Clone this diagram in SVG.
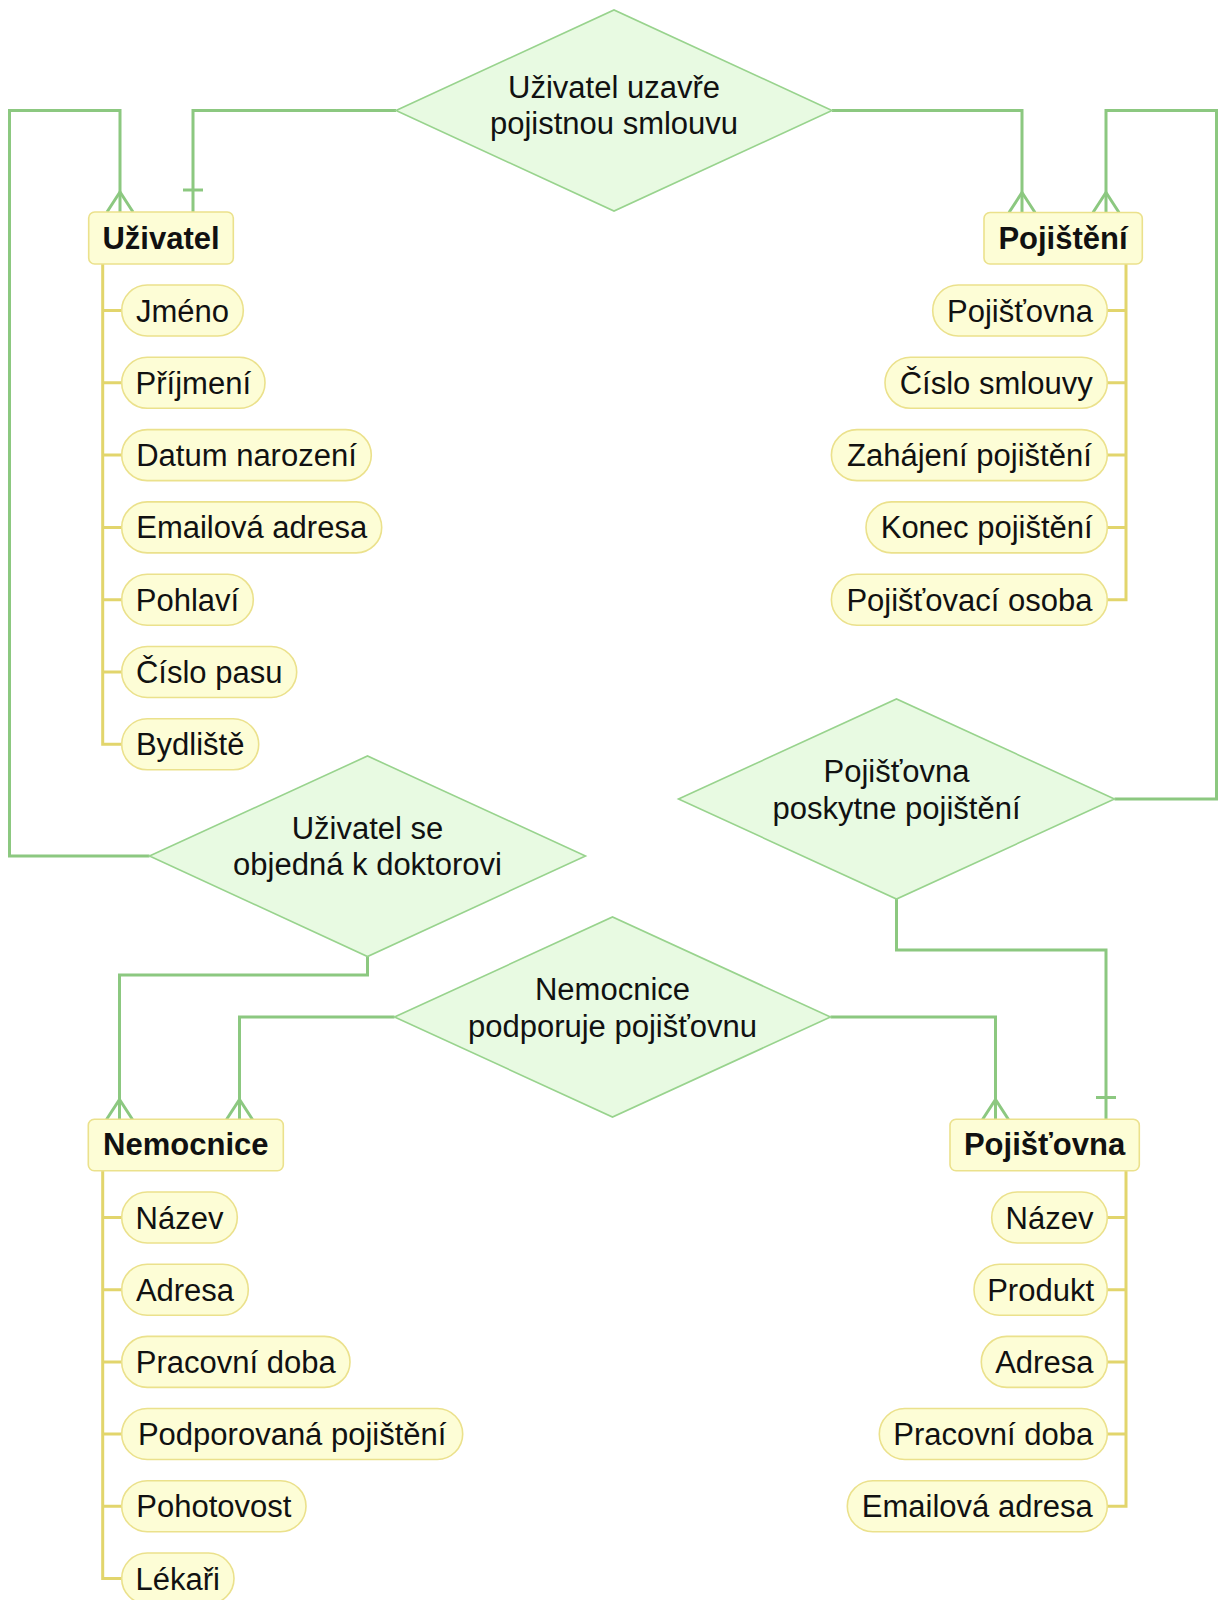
<svg xmlns="http://www.w3.org/2000/svg" width="1219" height="1600" viewBox="0 0 1219 1600">
  <style>
    .rel { fill: #e8fae2; stroke: #98d38d; stroke-width: 1.6; }
    .ent { fill: #fdfdd6; stroke: #ebe18c; stroke-width: 1.6; }
    .att { fill: #fdfdd6; stroke: #ebe18c; stroke-width: 1.6; }
    .link { fill: none; stroke: #8cc880; stroke-width: 3; }
    .attr-line { fill: none; stroke: #e2d56c; stroke-width: 3; }
    text { font-family: "Liberation Sans", Arial, sans-serif; font-size: 31px; fill: #111; stroke: none; }
    .title { font-weight: bold; }
    .mid { text-anchor: middle; }
  </style>
  <defs>
    <!-- many: crow's foot, drawn at the path end pointing along its direction -->
    <marker id="many" markerUnits="userSpaceOnUse" viewBox="-25 -15 30 30" refX="0" refY="0" markerWidth="30" markerHeight="30" orient="auto" overflow="visible">
      <path d="M0,-13 L-20,0 L0,13" fill="none" stroke="#8cc880" stroke-width="3"/>
    </marker>
    <!-- one: single bar across the line -->
    <marker id="one" markerUnits="userSpaceOnUse" viewBox="-25 -15 30 30" refX="0" refY="0" markerWidth="30" markerHeight="30" orient="auto" overflow="visible">
      <path d="M-22,-10 L-22,10" fill="none" stroke="#8cc880" stroke-width="3"/>
    </marker>
  </defs>

  <!-- relationship connectors -->
  <g id="connectors">
    <path class="link" d="M396,110.5 H193 V212" marker-end="url(#one)"/>
    <path class="link" d="M832,110.5 H1022 V212.5" marker-end="url(#many)"/>
    <path class="link" d="M149.5,856 H9.5 V110.5 H120 V212" marker-end="url(#many)"/>
    <path class="link" d="M1114.5,799 H1216.5 V110.5 H1106 V212.5" marker-end="url(#many)"/>
    <path class="link" d="M367.5,956.5 V975 H119.5 V1119.5" marker-end="url(#many)"/>
    <path class="link" d="M394.5,1017 H239.5 V1119.5" marker-end="url(#many)"/>
    <path class="link" d="M830.5,1017 H995.5 V1119.5" marker-end="url(#many)"/>
    <path class="link" d="M896.5,899 V950 H1106 V1119.5" marker-end="url(#one)"/>
  </g>

  <!-- attribute tree lines -->
  <g id="attribute-lines">
    <path class="attr-line" d="M102.7,264 V744.3 H121.7 M102.7,310.5 H121.7 M102.7,382.8 H121.7 M102.7,455.1 H121.7 M102.7,527.4 H121.7 M102.7,599.7 H121.7 M102.7,672 H121.7"/>
    <path class="attr-line" d="M1126,264 V599.7 H1107.3 M1126,310.5 H1107.3 M1126,382.8 H1107.3 M1126,455.1 H1107.3 M1126,527.4 H1107.3"/>
    <path class="attr-line" d="M102.7,1170.7 V1578.5 H121.7 M102.7,1217.5 H121.7 M102.7,1289.7 H121.7 M102.7,1361.9 H121.7 M102.7,1434 H121.7 M102.7,1506.2 H121.7"/>
    <path class="attr-line" d="M1126,1170.7 V1506.2 H1107.3 M1126,1217.5 H1107.3 M1126,1289.7 H1107.3 M1126,1361.9 H1107.3 M1126,1434 H1107.3"/>
  </g>

  <!-- relationships -->
  <g id="rel-uzavre">
    <polygon class="rel" points="396,110.5 614,10 832,110.5 614,211"/>
    <text class="mid" x="614" y="98">Uživatel uzavře</text>
    <text class="mid" x="614" y="134">pojistnou smlouvu</text>
  </g>
  <g id="rel-poskytne">
    <polygon class="rel" points="678.5,799 896.5,699 1114.5,799 896.5,899"/>
    <text class="mid" x="896.5" y="782">Pojišťovna</text>
    <text class="mid" x="896.5" y="818.5">poskytne pojištění</text>
  </g>
  <g id="rel-objedna">
    <polygon class="rel" points="149.5,856 367.5,756 585.5,856 367.5,956.5"/>
    <text class="mid" x="367.5" y="838.5">Uživatel se</text>
    <text class="mid" x="367.5" y="875">objedná k doktorovi</text>
  </g>
  <g id="rel-podporuje">
    <polygon class="rel" points="394.5,1017 612.5,917 830.5,1017 612.5,1117"/>
    <text class="mid" x="612.5" y="1000">Nemocnice</text>
    <text class="mid" x="612.5" y="1036.5">podporuje pojišťovnu</text>
  </g>

  <!-- entities -->
  <g id="ent-uzivatel">
    <rect class="ent" x="88.7" y="212" width="144.6" height="52" rx="6"/>
    <text class="title mid" x="161" y="249">Uživatel</text>
  </g>
  <g id="ent-pojisteni">
    <rect class="ent" x="984" y="212.5" width="158.3" height="51.5" rx="6"/>
    <text class="title mid" x="1063" y="249">Pojištění</text>
  </g>
  <g id="ent-nemocnice">
    <rect class="ent" x="88.3" y="1119.3" width="195" height="51.4" rx="6"/>
    <text class="title mid" x="185.8" y="1155">Nemocnice</text>
  </g>
  <g id="ent-pojistovna">
    <rect class="ent" x="950" y="1119.3" width="189.3" height="51.4" rx="6"/>
    <text class="title mid" x="1044.6" y="1155">Pojišťovna</text>
  </g>

  <!-- Uživatel attributes -->
  <g id="att-jmeno"><rect class="att" x="121.7" y="285" width="121.6" height="51" rx="25.5"/><text class="mid" x="182.5" y="321.5">Jméno</text></g>
  <g id="att-prijmeni"><rect class="att" x="121.7" y="357.3" width="143.3" height="51" rx="25.5"/><text class="mid" x="193.3" y="393.8">Příjmení</text></g>
  <g id="att-datum"><rect class="att" x="121.7" y="429.6" width="249.6" height="51" rx="25.5"/><text class="mid" x="246.5" y="466.1">Datum narození</text></g>
  <g id="att-email-u"><rect class="att" x="121.7" y="501.9" width="260" height="51" rx="25.5"/><text class="mid" x="251.7" y="538.4">Emailová adresa</text></g>
  <g id="att-pohlavi"><rect class="att" x="121.7" y="574.2" width="131.6" height="51" rx="25.5"/><text class="mid" x="187.5" y="610.7">Pohlaví</text></g>
  <g id="att-pas"><rect class="att" x="121.7" y="646.5" width="175" height="51" rx="25.5"/><text class="mid" x="209.2" y="683">Číslo pasu</text></g>
  <g id="att-bydliste"><rect class="att" x="121.7" y="718.8" width="137" height="51" rx="25.5"/><text class="mid" x="190.2" y="755.3">Bydliště</text></g>

  <!-- Pojištění attributes -->
  <g id="att-pojistovna"><rect class="att" x="932.7" y="285" width="174.6" height="51" rx="25.5"/><text class="mid" x="1020" y="321.5">Pojišťovna</text></g>
  <g id="att-cislo-smlouvy"><rect class="att" x="885" y="357.3" width="222.3" height="51" rx="25.5"/><text class="mid" x="996.2" y="393.8">Číslo smlouvy</text></g>
  <g id="att-zahajeni"><rect class="att" x="831.4" y="429.6" width="275.9" height="51" rx="25.5"/><text class="mid" x="969.4" y="466.1">Zahájení pojištění</text></g>
  <g id="att-konec"><rect class="att" x="866" y="501.9" width="241.3" height="51" rx="25.5"/><text class="mid" x="986.7" y="538.4">Konec pojištění</text></g>
  <g id="att-osoba"><rect class="att" x="831.4" y="574.2" width="275.9" height="51" rx="25.5"/><text class="mid" x="969.4" y="610.7">Pojišťovací osoba</text></g>

  <!-- Nemocnice attributes -->
  <g id="att-nazev-n"><rect class="att" x="121.7" y="1192" width="115.6" height="51" rx="25.5"/><text class="mid" x="179.5" y="1228.5">Název</text></g>
  <g id="att-adresa-n"><rect class="att" x="121.7" y="1264.2" width="126.6" height="51" rx="25.5"/><text class="mid" x="185" y="1300.7">Adresa</text></g>
  <g id="att-doba-n"><rect class="att" x="121.7" y="1336.4" width="228.3" height="51" rx="25.5"/><text class="mid" x="235.8" y="1372.9">Pracovní doba</text></g>
  <g id="att-podporovana"><rect class="att" x="121.7" y="1408.5" width="341" height="51" rx="25.5"/><text class="mid" x="292.2" y="1445">Podporovaná pojištění</text></g>
  <g id="att-pohotovost"><rect class="att" x="121.7" y="1480.7" width="184.3" height="51" rx="25.5"/><text class="mid" x="213.8" y="1517.2">Pohotovost</text></g>
  <g id="att-lekari"><rect class="att" x="121.7" y="1553" width="112.3" height="51" rx="25.5"/><text class="mid" x="177.8" y="1589.5">Lékaři</text></g>

  <!-- Pojišťovna attributes -->
  <g id="att-nazev-p"><rect class="att" x="991.7" y="1192" width="115.6" height="51" rx="25.5"/><text class="mid" x="1049.5" y="1228.5">Název</text></g>
  <g id="att-produkt"><rect class="att" x="974" y="1264.2" width="133.3" height="51" rx="25.5"/><text class="mid" x="1040.6" y="1300.7">Produkt</text></g>
  <g id="att-adresa-p"><rect class="att" x="981.3" y="1336.4" width="126" height="51" rx="25.5"/><text class="mid" x="1044.3" y="1372.9">Adresa</text></g>
  <g id="att-doba-p"><rect class="att" x="879.3" y="1408.5" width="228" height="51" rx="25.5"/><text class="mid" x="993.3" y="1445">Pracovní doba</text></g>
  <g id="att-email-p"><rect class="att" x="847.3" y="1480.7" width="260" height="51" rx="25.5"/><text class="mid" x="977.3" y="1517.2">Emailová adresa</text></g>
</svg>
